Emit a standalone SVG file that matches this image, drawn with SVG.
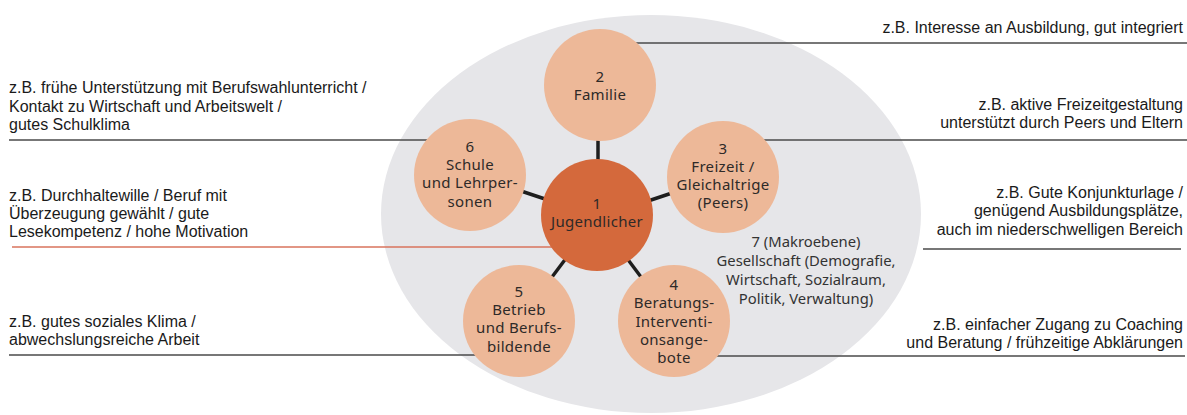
<svg xmlns="http://www.w3.org/2000/svg" width="1187" height="415" viewBox="0 0 1187 415">
<style>
.note{font-family:"Liberation Sans",Arial,sans-serif;font-size:16px;fill:#1a1a1a}
.r{text-anchor:end}
.lead{stroke:#4a4a4a;stroke-width:1.3;fill:none}
.red{stroke:#d9735c;stroke-width:1.5;fill:none}
.spoke{stroke:#1e1e1e;stroke-width:3.5;stroke-linecap:butt}
.c{fill:#edb898}
.cc{fill:#d4693c}
.lbl{font-family:"Noto Sans",sans-serif;font-size:15px;fill:#2e2a28;text-anchor:middle;letter-spacing:0.3px}
.mak{font-family:"Noto Sans",sans-serif;font-size:14.8px;fill:#333;text-anchor:middle}
</style>
<rect width="1187" height="415" fill="#ffffff"/>
<g id="ellipse7">
<ellipse cx="651" cy="214" rx="270" ry="199" fill="#e6e6e9"/>
<text class="mak" x="806" y="247">7 (Makroebene)</text>
<text class="mak" x="806" y="266">Gesellschaft (Demografie,</text>
<text class="mak" x="806" y="285">Wirtschaft, Sozialraum,</text>
<text class="mak" x="806" y="304">Politik, Verwaltung)</text>
</g>
<g id="connectors">
<line class="lead" x1="9" y1="140" x2="440" y2="140"/>
<line class="red" x1="12" y1="247" x2="560" y2="247"/>
<line class="lead" x1="9" y1="355" x2="490" y2="355"/>
<line class="lead" x1="625" y1="43" x2="1187" y2="43"/>
<line class="lead" x1="750" y1="140" x2="1187" y2="140"/>
<line class="lead" x1="923" y1="249" x2="1181" y2="249"/>
<line class="lead" x1="700" y1="356" x2="1185" y2="356"/>
<line class="spoke" x1="598" y1="135" x2="598" y2="165"/>
<line class="spoke" x1="518" y1="190" x2="548" y2="200"/>
<line class="spoke" x1="645" y1="202" x2="675" y2="192"/>
<line class="spoke" x1="567" y1="257" x2="549" y2="281"/>
<line class="spoke" x1="626" y1="257" x2="644" y2="281"/>
</g>
<g id="node2">
<circle class="c" cx="600" cy="85" r="56"/>
<text class="lbl" x="600" y="82">2</text>
<text class="lbl" x="600" y="100">Familie</text>
</g>
<g id="node6">
<circle class="c" cx="470" cy="175" r="56"/>
<text class="lbl" x="470" y="152">6</text>
<text class="lbl" x="470" y="170">Schule</text>
<text class="lbl" x="470" y="188">und Lehrper-</text>
<text class="lbl" x="470" y="207">sonen</text>
</g>
<g id="node3">
<circle class="c" cx="723" cy="177" r="56"/>
<text class="lbl" x="723" y="154">3</text>
<text class="lbl" x="723" y="172">Freizeit /</text>
<text class="lbl" x="723" y="190">Gleichaltrige</text>
<text class="lbl" x="723" y="208">(Peers)</text>
</g>
<g id="node1">
<circle class="cc" cx="597" cy="215" r="56"/>
<text class="lbl" x="597" y="209">1</text>
<text class="lbl" x="597" y="227">Jugendlicher</text>
</g>
<g id="node5">
<circle class="c" cx="519" cy="321" r="56"/>
<text class="lbl" x="519" y="297">5</text>
<text class="lbl" x="519" y="315">Betrieb</text>
<text class="lbl" x="519" y="333">und Berufs-</text>
<text class="lbl" x="519" y="352">bildende</text>
</g>
<g id="node4">
<circle class="c" cx="674" cy="321" r="56"/>
<text class="lbl" x="674" y="290">4</text>
<text class="lbl" x="674" y="308">Beratungs-</text>
<text class="lbl" x="674" y="327">Interventi-</text>
<text class="lbl" x="674" y="345">onsange-</text>
<text class="lbl" x="674" y="363">bote</text>
</g>
<g id="notes-left">
<text class="note" x="9" y="93">z.B. frühe Unterstützung mit Berufswahlunterricht /</text>
<text class="note" x="9" y="111.5">Kontakt zu Wirtschaft und Arbeitswelt /</text>
<text class="note" x="9" y="130">gutes Schulklima</text>
<text class="note" x="9" y="201">z.B. Durchhaltewille / Beruf mit</text>
<text class="note" x="9" y="219">Überzeugung gewählt / gute</text>
<text class="note" x="9" y="237">Lesekompetenz / hohe Motivation</text>
<text class="note" x="9" y="327">z.B. gutes soziales Klima /</text>
<text class="note" x="9" y="345">abwechslungsreiche Arbeit</text>
</g>
<g id="notes-right">
<text class="note r" x="1183" y="33">z.B. Interesse an Ausbildung, gut integriert</text>
<text class="note r" x="1183" y="110">z.B. aktive Freizeitgestaltung</text>
<text class="note r" x="1183" y="128">unterstützt durch Peers und Eltern</text>
<text class="note r" x="1183" y="198">z.B. Gute Konjunkturlage /</text>
<text class="note r" x="1183" y="216">genügend Ausbildungsplätze,</text>
<text class="note r" x="1183" y="235">auch im niederschwelligen Bereich</text>
<text class="note r" x="1183" y="330">z.B. einfacher Zugang zu Coaching</text>
<text class="note r" x="1183" y="348">und Beratung / frühzeitige Abklärungen</text>
</g>
</svg>
